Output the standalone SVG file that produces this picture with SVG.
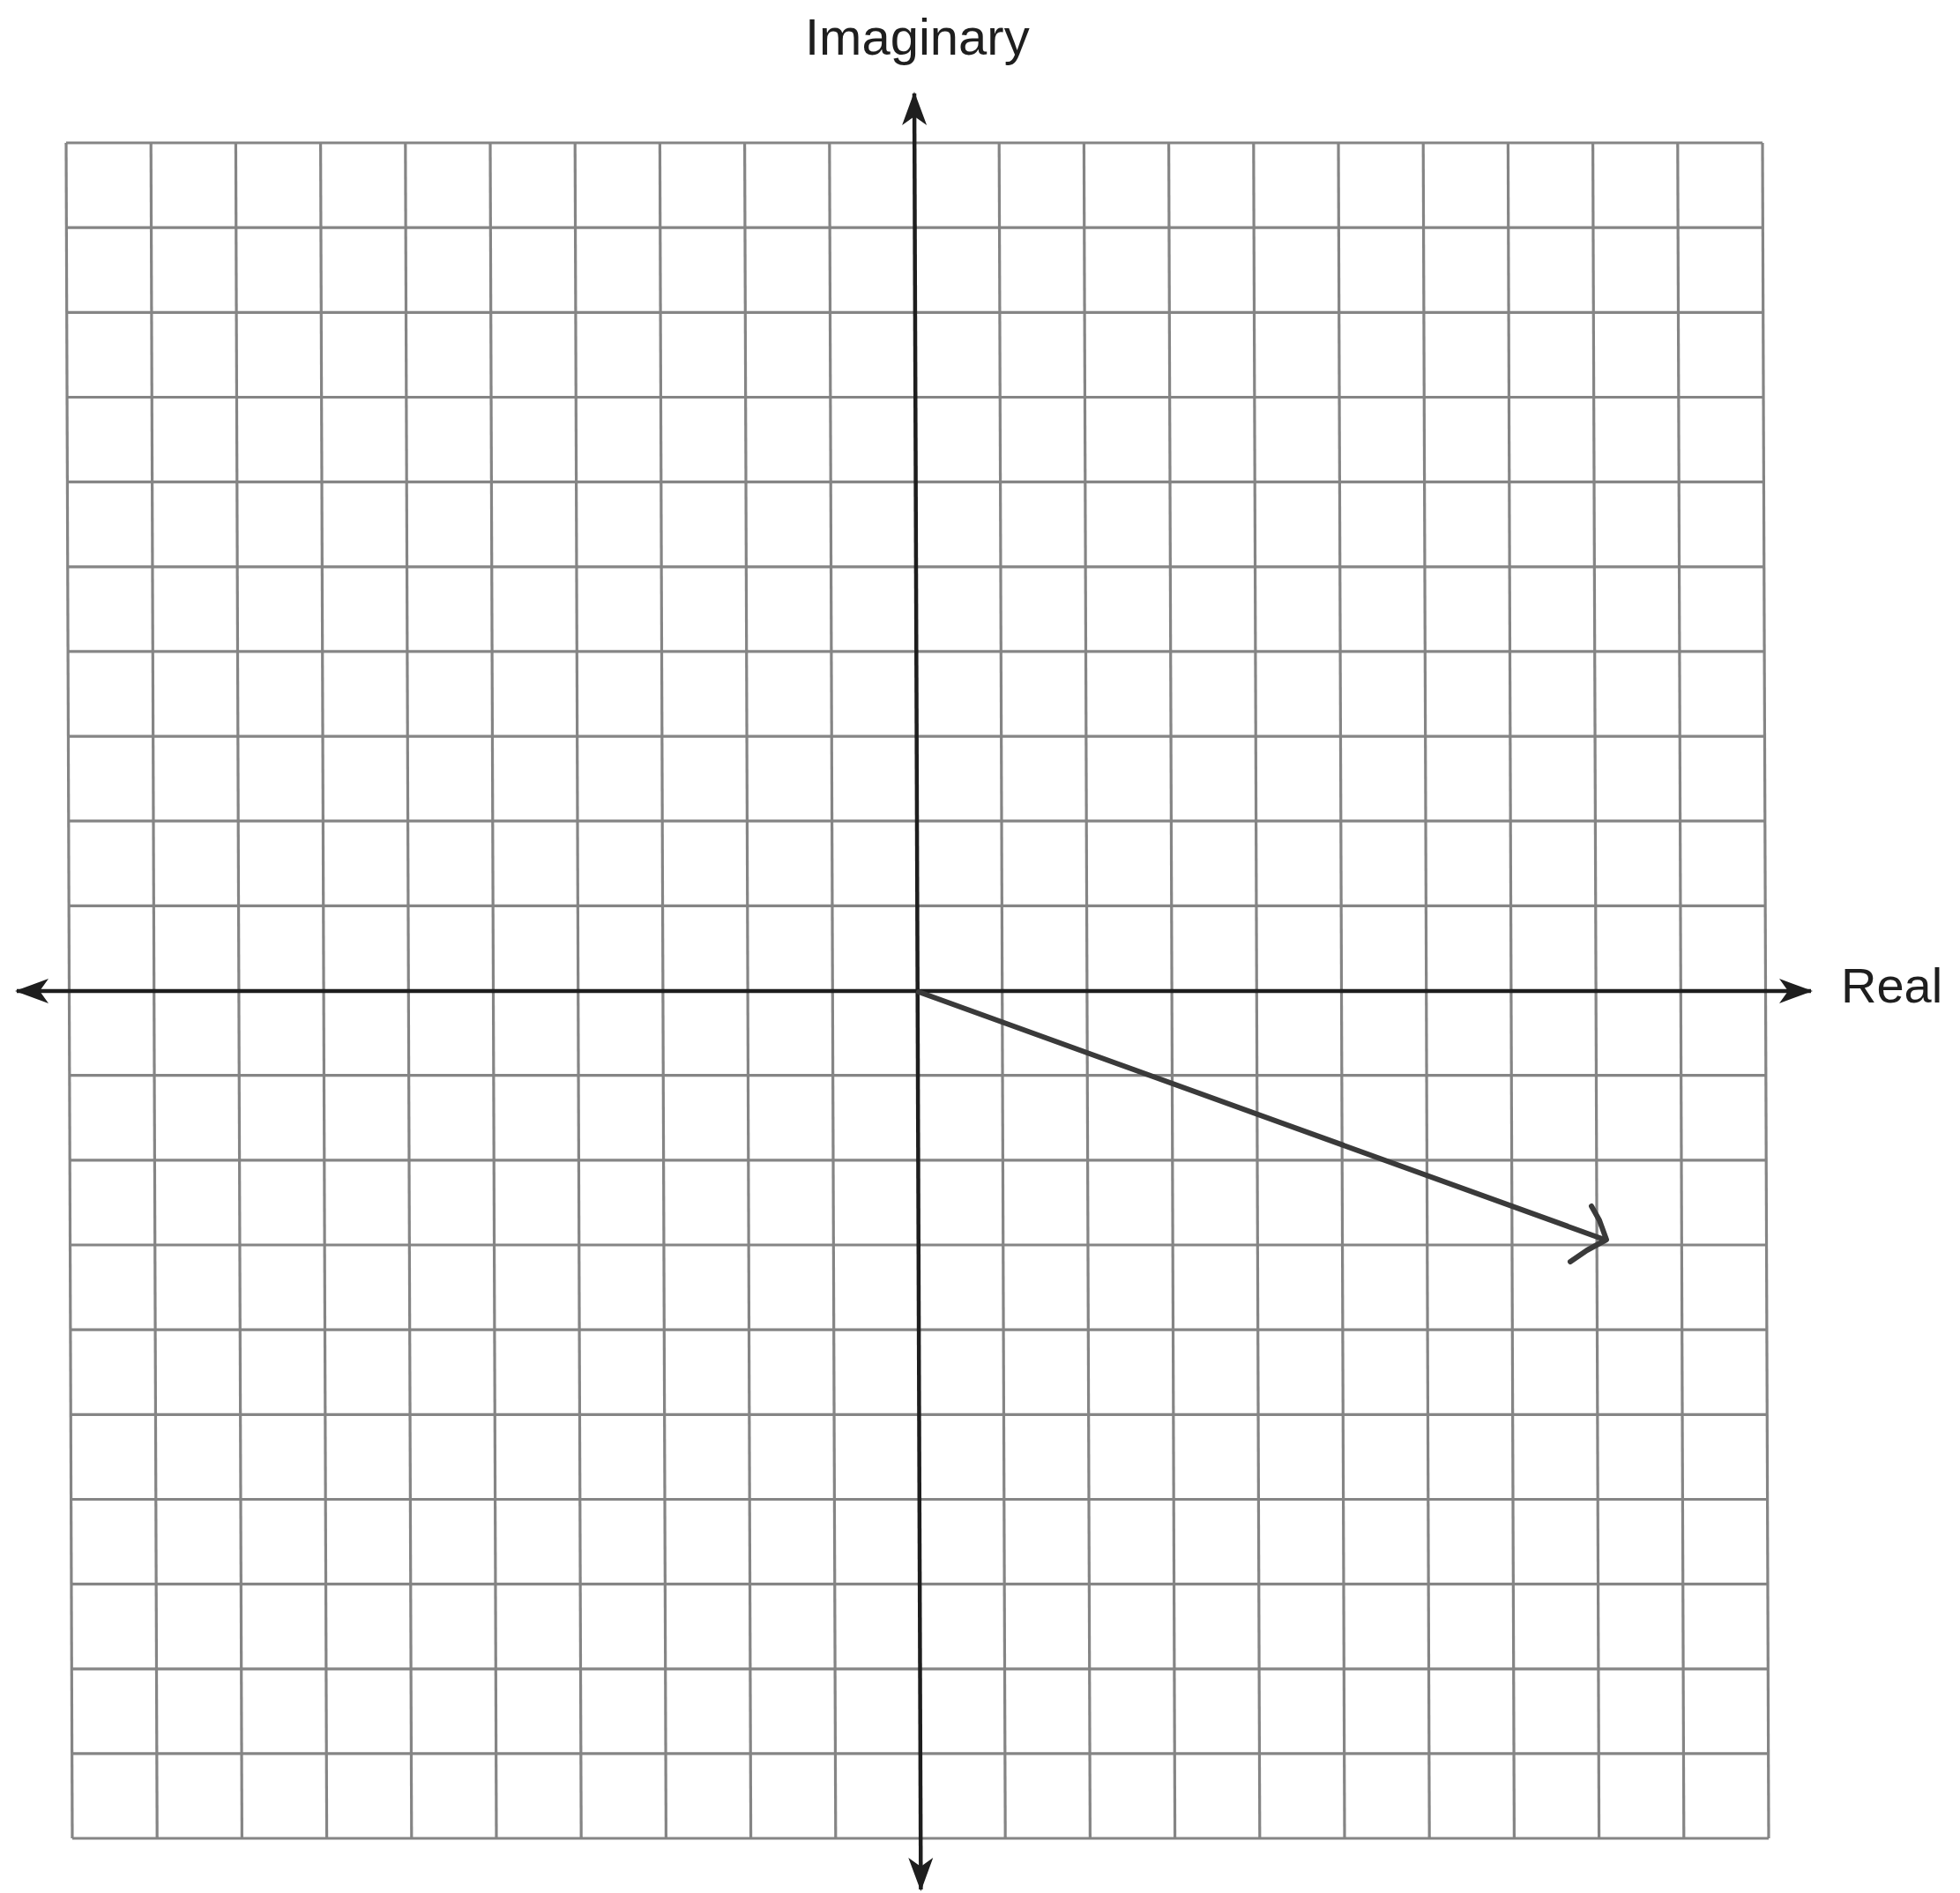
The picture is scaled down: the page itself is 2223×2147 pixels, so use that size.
<svg xmlns="http://www.w3.org/2000/svg" width="2223" height="2147" viewBox="0 0 2223 2147">
  <style>
    .grid line { stroke: #858585; stroke-width: 3.2; }
    .axis { stroke: #1e1e1e; stroke-width: 4.5; fill: none; }
    .label { font-family: "Liberation Sans", Arial, sans-serif; fill: #1e1e1e; }
    .vec { stroke: #3a3a3a; stroke-width: 6; fill: none; stroke-linecap: round; stroke-linejoin: round; }
  </style>
  <defs>
    <marker id="ah" markerUnits="userSpaceOnUse" markerWidth="50" markerHeight="40" viewBox="-40 -20 45 40" refX="0" refY="0" orient="auto-start-reverse">
      <path d="M2,0 L-36,-14 L-26,0 L-36,14 Z" fill="#1e1e1e"/>
    </marker>
  </defs>
  <rect width="2223" height="2147" fill="#ffffff"/>
  <g id="grid" class="grid" transform="translate(-0.59,0) skewX(0.2085)">
    <line x1="75" y1="162" x2="75" y2="2085"/>
    <line x1="171.2" y1="162" x2="171.2" y2="2085"/>
    <line x1="267.4" y1="162" x2="267.4" y2="2085"/>
    <line x1="363.6" y1="162" x2="363.6" y2="2085"/>
    <line x1="459.8" y1="162" x2="459.8" y2="2085"/>
    <line x1="556" y1="162" x2="556" y2="2085"/>
    <line x1="652.2" y1="162" x2="652.2" y2="2085"/>
    <line x1="748.4" y1="162" x2="748.4" y2="2085"/>
    <line x1="844.6" y1="162" x2="844.6" y2="2085"/>
    <line x1="940.8" y1="162" x2="940.8" y2="2085"/>
    <line x1="1133.2" y1="162" x2="1133.2" y2="2085"/>
    <line x1="1229.4" y1="162" x2="1229.4" y2="2085"/>
    <line x1="1325.6" y1="162" x2="1325.6" y2="2085"/>
    <line x1="1421.8" y1="162" x2="1421.8" y2="2085"/>
    <line x1="1518" y1="162" x2="1518" y2="2085"/>
    <line x1="1614.2" y1="162" x2="1614.2" y2="2085"/>
    <line x1="1710.4" y1="162" x2="1710.4" y2="2085"/>
    <line x1="1806.6" y1="162" x2="1806.6" y2="2085"/>
    <line x1="1902.8" y1="162" x2="1902.8" y2="2085"/>
    <line x1="1999" y1="162" x2="1999" y2="2085"/>
    <line x1="75" y1="162" x2="1999" y2="162"/>
    <line x1="75" y1="258.2" x2="1999" y2="258.2"/>
    <line x1="75" y1="354.3" x2="1999" y2="354.3"/>
    <line x1="75" y1="450.5" x2="1999" y2="450.5"/>
    <line x1="75" y1="546.6" x2="1999" y2="546.6"/>
    <line x1="75" y1="642.8" x2="1999" y2="642.8"/>
    <line x1="75" y1="738.9" x2="1999" y2="738.9"/>
    <line x1="75" y1="835.1" x2="1999" y2="835.1"/>
    <line x1="75" y1="931.2" x2="1999" y2="931.2"/>
    <line x1="75" y1="1027.4" x2="1999" y2="1027.4"/>
    <line x1="75" y1="1219.7" x2="1999" y2="1219.7"/>
    <line x1="75" y1="1315.9" x2="1999" y2="1315.9"/>
    <line x1="75" y1="1412" x2="1999" y2="1412"/>
    <line x1="75" y1="1508.2" x2="1999" y2="1508.2"/>
    <line x1="75" y1="1604.3" x2="1999" y2="1604.3"/>
    <line x1="75" y1="1700.5" x2="1999" y2="1700.5"/>
    <line x1="75" y1="1796.6" x2="1999" y2="1796.6"/>
    <line x1="75" y1="1892.8" x2="1999" y2="1892.8"/>
    <line x1="75" y1="1988.9" x2="1999" y2="1988.9"/>
    <line x1="75" y1="2085" x2="1999" y2="2085"/>
  </g>
  <g id="connectors">
    <g id="imag-axis" transform="translate(-0.59,0) skewX(0.2085)">
      <line class="axis" x1="1037.2" y1="2143" x2="1037.2" y2="106" marker-start="url(#ah)" marker-end="url(#ah)"/>
    </g>
    <line id="real-axis" class="axis" x1="19" y1="1124" x2="2054" y2="1124" marker-start="url(#ah)" marker-end="url(#ah)"/>
  </g>
  <g id="vector">
    <path class="vec" d="M1042,1125 L1820,1406"/>
    <path class="vec" d="M1805,1368 L1814,1384 L1822,1406 L1800,1418 L1781,1431"/>
  </g>
  <g id="labels">
    <text id="label-imaginary" class="label" x="913" y="62" font-size="58">Imaginary</text>
    <text id="label-real" class="label" x="2088" y="1137" font-size="56">Real</text>
  </g>
</svg>
